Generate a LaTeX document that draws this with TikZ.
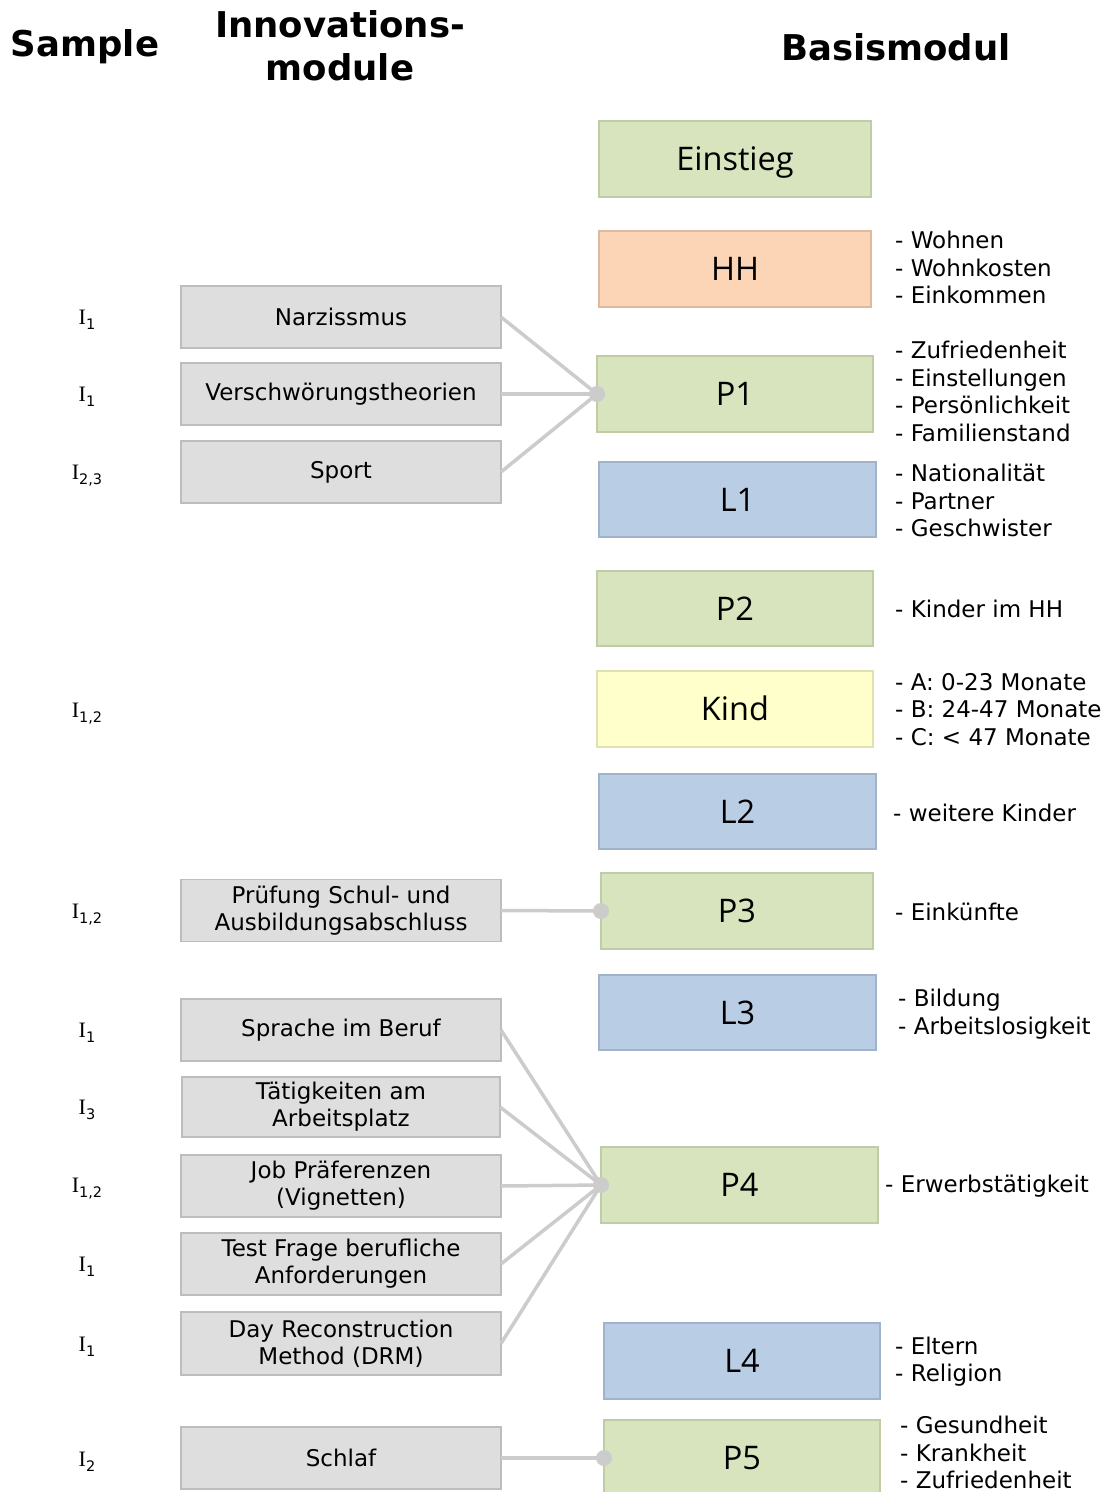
\documentclass[tikz,border=0pt]{standalone}
\usepackage{fontspec}
\setmainfont{DejaVu Sans}
\newfontfamily\boxfont{Open Sans}
\newfontfamily\ifont{Liberation Serif}
\definecolor{cgreen}{HTML}{D7E4BD}
\definecolor{cgreenB}{HTML}{BFCCA6}
\definecolor{corange}{HTML}{FBD5B5}
\definecolor{corangeB}{HTML}{DDB9A0}
\definecolor{cblue}{HTML}{B9CDE5}
\definecolor{cblueB}{HTML}{A0B3CA}
\definecolor{cyellow}{HTML}{FFFFCC}
\definecolor{cyellowB}{HTML}{E0E0B0}
\definecolor{cgray}{HTML}{DEDEDE}
\definecolor{cgrayB}{HTML}{BDBDBD}
\definecolor{cline}{HTML}{CCCCCC}
\begin{document}
\begin{tikzpicture}[x=1pt,y=-1pt,
  modbox/.style={draw, line width=1.2pt, inner sep=0pt, outer sep=0pt,
    text height=23pt, text depth=0pt,
    font=\boxfont\fontsize{32.5}{32.5}\selectfont},
  gbox/.style={modbox, fill=cgreen, draw=cgreenB},
  obox/.style={modbox, fill=corange, draw=corangeB},
  bbox/.style={modbox, fill=cblue, draw=cblueB},
  ybox/.style={modbox, fill=cyellow, draw=cyellowB},
  inno/.style={draw=cgrayB, fill=cgray, line width=1.2pt, inner sep=0pt, outer sep=0pt,
    minimum width=320, minimum height=62, align=center,
    font=\fontsize{23}{27}\selectfont},
  lst/.style={anchor=west, align=left, inner sep=0pt, font=\fontsize{23}{27.5}\selectfont},
  head/.style={align=center, inner sep=0pt, font=\bfseries\fontsize{35.5}{43}\selectfont},
  samp/.style={inner sep=0pt},
  conn/.style={draw=cline, line width=3.5pt},
  dot/.style={fill=cline, draw=none}
]
\clip (0,0) rectangle (1112,1492);
\fill[white] (0,0) rectangle (1112,1492);
\newcommand{\smp}[1]{{\ifont\fontsize{22}{22}\selectfont I}\raisebox{-5pt}{\fontsize{14.5}{14.5}\selectfont #1}}

% headers
\node[head] (hs) at (85,47) {Sample};
\node[head] (hi) at (340,46) {Innovations-\\module};
\node[head] (hb) at (896,47) {Basismodul};

% basis modules
\node[gbox, minimum width=272, minimum height=76] (ein) at (735,159) {Einstieg};
\node[obox, minimum width=272, minimum height=76] (hh) at (735,269) {HH};
\node[gbox, minimum width=276, minimum height=76] (p1) at (735,394) {P1};
\node[bbox, minimum width=277, minimum height=75] (l1) at (737.5,499.5) {L1};
\node[gbox, minimum width=276, minimum height=75] (p2) at (735,608.5) {P2};
\node[ybox, minimum width=276, minimum height=76] (kind) at (735,709) {Kind};
\node[bbox, minimum width=277, minimum height=75] (l2) at (737.5,811.5) {L2};
\node[gbox, minimum width=272, minimum height=76] (p3) at (737,911) {P3};
\node[bbox, minimum width=277, minimum height=75] (l3) at (737.5,1012.5) {L3};
\node[gbox, minimum width=277, minimum height=76] (p4) at (739.5,1185) {P4};
\node[bbox, minimum width=276, minimum height=76] (l4) at (742,1361) {L4};
\node[gbox, minimum width=276, minimum height=76] (p5) at (742,1458) {P5};

% lists
\node[lst] (thh) at (895,267.5) {- Wohnen\\- Wohnkosten\\- Einkommen};
\node[lst] (tp1) at (895,391.5) {- Zufriedenheit\\- Einstellungen\\- Persönlichkeit\\- Familienstand};
\node[lst] (tl1) at (895,500.5) {- Nationalität\\- Partner\\- Geschwister};
\node[lst] (tp2) at (895,609) {- Kinder im HH};
\node[lst] (tkind) at (895,709.5) {- A: 0-23 Monate\\- B: 24-47 Monate\\- C: < 47 Monate};
\node[lst] (tl2) at (893,813) {- weitere Kinder};
\node[lst] (tp3) at (895,912) {- Einkünfte};
\node[lst] (tl3) at (898,1014) {- Bildung\\- Arbeitslosigkeit};
\node[lst] (tp4) at (885,1186) {- Erwerbstätigkeit};
\node[lst] (tl4) at (895,1361.5) {- Eltern\\- Religion};
\node[lst] (tp5) at (900,1452.5) {- Gesundheit\\- Krankheit\\- Zufriedenheit};

% innovation modules
\node[inno] (narz) at (341,317) {Narzissmus};
\node[inno] (vers) at (341,394) {Verschwörungstheorien};
\node[inno] (sport) at (341,472) {Sport};
\node[inno] (pruef) at (341,910.5) {Prüfung Schul- und\\Ausbildungsabschluss};
\node[inno] (spr) at (341,1030) {Sprache im Beruf};
\node[inno, minimum width=318, minimum height=60] (taet) at (341,1107) {Tätigkeiten am\\Arbeitsplatz};
\node[inno] (job) at (341,1186) {Job Präferenzen\\(Vignetten)};
\node[inno] (test) at (341,1264) {Test Frage berufliche\\Anforderungen};
\node[inno, minimum height=63] (drm) at (341,1343.5) {Day Reconstruction\\Method (DRM)};
\node[inno] (schlaf) at (341,1458) {Schlaf};

% sample labels
\node[samp] (s1) at (87,320) {\smp{1}};
\node[samp] (s2) at (87,397) {\smp{1}};
\node[samp] (s3) at (87,476) {\smp{2,3}};
\node[samp] (s4) at (87,714) {\smp{1,2}};
\node[samp] (s5) at (87,915) {\smp{1,2}};
\node[samp] (s6) at (87,1033) {\smp{1}};
\node[samp] (s7) at (87,1110) {\smp{3}};
\node[samp] (s8) at (87,1189) {\smp{1,2}};
\node[samp] (s9) at (87,1267) {\smp{1}};
\node[samp] (s10) at (87,1347) {\smp{1}};
\node[samp] (s11) at (87,1462) {\smp{2}};

% connectors
\foreach \a in {narz,vers,sport} \draw[conn] (\a.east) -- (p1.west);
\draw[conn] (pruef.east) -- (p3.west);
\foreach \a in {spr,taet,job,test,drm} \draw[conn] (\a.east) -- (p4.west);
\draw[conn] (schlaf.east) -- (p5.west);
\foreach \b in {p1,p3,p4,p5} \fill[dot] (\b.west) circle (8);
\end{tikzpicture}
\end{document}
